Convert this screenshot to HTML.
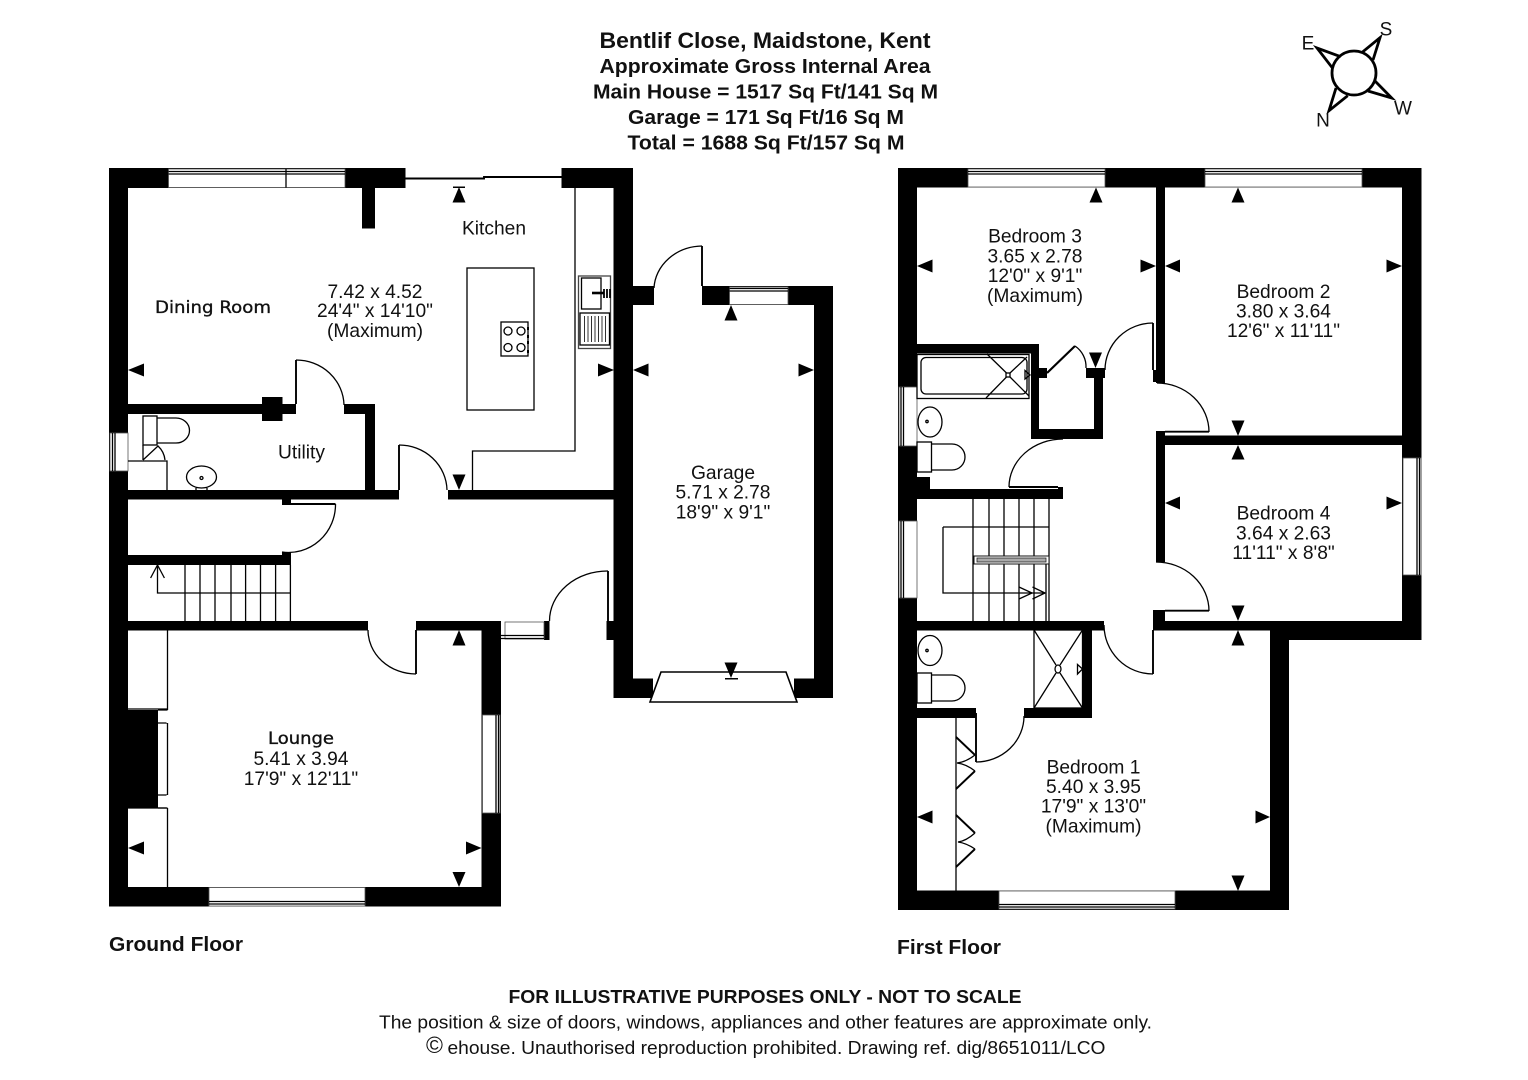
<!DOCTYPE html>
<html lang="en"><head><meta charset="utf-8"><title>Bentlif Close floor plan</title>
<style>
html,body{margin:0;padding:0;background:#fff;width:1528px;height:1080px;overflow:hidden}
svg{display:block}
text{font-family:"Liberation Sans",Arial,sans-serif;fill:#111;text-anchor:middle;font-size:19.2px}
.b{font-weight:bold;font-size:20.4px}
.v{font-family:"DejaVu Sans",sans-serif;font-size:17px;font-weight:500;stroke:#111;stroke-width:.35}
.l{fill:none;stroke:#000;stroke-width:1.3}
.t{fill:none;stroke:#000;stroke-width:1.9}
.w{fill:#fff;stroke:#555;stroke-width:.8}
</style></head><body>
<svg width="1528" height="1080" viewBox="0 0 1528 1080" xmlns="http://www.w3.org/2000/svg">
<rect width="1528" height="1080" fill="#fff"/>

<!-- Titles -->
<text class="b" x="765" y="48" style="font-size:21.8px" textLength="331" lengthAdjust="spacingAndGlyphs">Bentlif Close, Maidstone, Kent</text>
<text class="b" x="765" y="73" textLength="331" lengthAdjust="spacingAndGlyphs">Approximate Gross Internal Area</text>
<text class="b" x="765.5" y="98.5" textLength="345" lengthAdjust="spacingAndGlyphs">Main House = 1517 Sq Ft/141 Sq M</text>
<text class="b" x="766" y="124" textLength="276" lengthAdjust="spacingAndGlyphs">Garage = 171 Sq Ft/16 Sq M</text>
<text class="b" x="766" y="149.5" textLength="277" lengthAdjust="spacingAndGlyphs">Total = 1688 Sq Ft/157 Sq M</text>

<!-- Compass -->
<g fill="none" stroke="#000" stroke-width="2.8">
<circle cx="1354" cy="73" r="22"/>
<path d="M1361.7,52.7L1380,37.7L1373,60M1340.7,56.7L1317,48L1332.7,68.3M1336,88L1329,110.7L1347.7,95.7M1375,81L1391.7,98L1368,91"/>
</g>
<text x="1386" y="35.5" style="font-size:19px">S</text>
<text x="1308" y="49.5" style="font-size:19px">E</text>
<text x="1323" y="126.5" style="font-size:19px">N</text>
<text x="1403" y="114.5" style="font-size:19px">W</text>

<!-- GROUND FLOOR WALLS -->
<g fill="#000">
<rect x="109" y="168" width="19" height="738.5"/>
<rect x="109" y="168" width="296.5" height="20"/>
<rect x="362" y="168" width="13" height="60.5"/>
<rect x="561.5" y="168" width="71.5" height="20"/>
<rect x="613.5" y="168" width="19.5" height="530"/>
<rect x="128" y="404" width="168" height="10"/>
<rect x="262" y="397" width="20.5" height="24"/>
<rect x="344" y="404" width="31" height="10"/>
<rect x="365" y="404" width="10" height="86"/>
<rect x="128" y="490" width="271" height="9.5"/>
<rect x="448" y="490" width="166" height="9.5"/>
<rect x="282" y="499" width="9" height="6"/>
<rect x="128" y="555" width="163" height="10"/>
<rect x="282" y="552" width="9" height="5"/>
<rect x="128" y="621" width="240" height="9.5"/>
<rect x="416" y="621" width="85" height="9.5"/>
<rect x="481.5" y="621" width="19.5" height="285.5"/>
<rect x="109" y="887" width="392" height="19.5"/>
<rect x="544" y="621" width="5.5" height="19"/>
<rect x="606.5" y="621" width="8" height="19"/>
<rect x="128" y="710" width="30" height="98"/>
<!-- garage -->
<rect x="633" y="286" width="21" height="19"/>
<rect x="702" y="286" width="131" height="19"/>
<rect x="814" y="286" width="19" height="412"/>
<rect x="613.5" y="678.5" width="39.5" height="19.5"/>
<rect x="794" y="678.5" width="39" height="19.5"/>
</g>

<!-- Ground windows -->
<rect class="w" x="168.5" y="169" width="176.5" height="18.5"/>
<path class="l" d="M168.5,171.5H345M168.5,174H345M286,169V187.5"/>
<rect class="w" x="110" y="433" width="18" height="38"/>
<path class="l" d="M112.5,433V471M115,433V471"/>
<rect class="w" x="209" y="887.5" width="156" height="18.5"/>
<path class="l" d="M209,901.5H365M209,904H365"/>
<rect class="w" x="482.5" y="715" width="17.5" height="98"/>
<path class="l" d="M496,715V813M498.5,715V813"/>
<rect class="w" x="505" y="622" width="39" height="17"/>
<path class="l" d="M501,635.5H544M501,638.5H544"/>
<rect class="w" x="729.5" y="287" width="58.5" height="17.5"/>
<path class="l" d="M729.5,288.5H788M729.5,291H788"/>

<!-- Sliding door -->
<path d="M405,178.5H484V177H562" fill="none" stroke="#000" stroke-width="1.9"/>

<!-- Ground fixtures -->
<path class="l" d="M575,188V451H472.5V490"/>
<rect class="l" x="467" y="268" width="67" height="142"/>
<rect class="l" x="501" y="322" width="27" height="34"/>
<g class="l"><circle cx="508" cy="331" r="4"/><circle cx="521" cy="331" r="4"/><circle cx="508" cy="347.5" r="4"/><circle cx="521" cy="347.5" r="4"/></g>
<path d="M528,327v3M528,335v3M528,341v3M528,350v3" stroke="#000" stroke-width="2"/>
<rect x="578.5" y="276" width="32" height="72.5" fill="#fff" stroke="#444" stroke-width="1.3"/>
<rect class="l" x="581.5" y="278" width="19.5" height="31"/>
<rect class="l" x="580" y="313" width="29.5" height="32"/>
<path d="M584.5,316V342M588,316V342M591.5,316V342M595,316V342M598.5,316V342M602,316V342M605.5,316V342" stroke="#333" stroke-width="1"/>
<path d="M592,293H604" stroke="#000" stroke-width="2.6"/>
<path d="M604,289V298M607,289V298M610,289V298" stroke="#000" stroke-width="1.8"/>

<!-- Utility fixtures -->
<rect class="l" x="143" y="416" width="14" height="29"/>
<path class="l" d="M157,418H176A13.5,12.5 0 0 1 176,443H157"/>
<path class="l" d="M143,445V460M143,460L158,446A22,22 0 0 1 165,460M128,461H167V490"/>
<ellipse class="l" cx="201.5" cy="477" rx="15" ry="11"/>
<circle class="l" cx="201.5" cy="478" r="1.5"/>
<path class="l" d="M196,488V490M207,488V490"/>

<!-- Ground stairs -->
<path class="l" d="M185,565V621M200,565V621M215,565V621M231,565V621M245.6,565V621M260.5,565V621M275.6,565V621M290.4,565V621M290.4,593H157.5V566M150.6,578L157.5,565L164.4,578"/>

<!-- Ground door swings -->
<g class="t">
<path d="M296,404V360"/><path class="l" d="M296,360A48,46 0 0 1 344,405"/>
<path d="M399,490V445"/><path class="l" d="M399,445A48,46 0 0 1 447,490"/>
<path d="M291,504H335.5"/><path class="l" d="M335.5,504A47,48 0 0 1 282,552"/>
<path d="M416,630V674"/><path class="l" d="M416,674A48,44 0 0 1 368,630"/>
<path d="M608,621V571"/><path class="l" d="M608,571A58,50 0 0 0 549.5,621"/>
<path d="M702,286V246"/><path class="l" d="M702,246A49,44 0 0 0 654,288"/>
</g>

<!-- Lounge fixtures -->
<path class="l" d="M128,709H167.5V630M167.5,630V887M128,808H167.5M158,723H167.5M158,795H167.5"/>
<path d="M167.5,710V723M167.5,795V808" stroke="#fff" stroke-width="2"/>
<path class="l" d="M158,710H167.5M158,808H167.5"/>

<!-- Garage door -->
<polygon points="661,672 786,672 797,702 650,702" fill="#fff" stroke="#000" stroke-width="1.6"/>

<!-- Ground arrows -->
<g fill="#000">
<polygon points="128,370 144,363.5 144,376.5"/>
<polygon points="614,370 598,363.5 598,376.5"/>
<polygon points="459,187 452.5,202.5 465.5,202.5"/><rect x="453" y="186.5" width="12" height="1.5"/>
<polygon points="459,490 452.5,474.5 465.5,474.5"/>
<polygon points="633,370 648.5,363.5 648.5,376.5"/>
<polygon points="814,370 798.5,363.5 798.5,376.5"/>
<polygon points="731,305 724.5,320.5 737.5,320.5"/>
<polygon points="731,678 724.5,662.5 737.5,662.5"/><rect x="725" y="678" width="13" height="1.5"/>
<polygon points="128,848 144,841.5 144,854.5"/>
<polygon points="481.5,848 466,841.5 466,854.5"/>
<polygon points="459,630 452.5,645.5 465.5,645.5"/>
<polygon points="459,887 452.5,872 465.5,872"/>
</g>

<!-- Ground labels -->
<text x="494" y="234.5">Kitchen</text>
<text class="v" x="213" y="313" textLength="116" lengthAdjust="spacingAndGlyphs">Dining Room</text>
<text x="375" y="298">7.42 x 4.52</text>
<text x="375" y="317">24'4" x 14'10"</text>
<text x="375" y="337">(Maximum)</text>
<text x="301.5" y="458.5">Utility</text>
<text class="v" x="301" y="744" textLength="66" lengthAdjust="spacingAndGlyphs">Lounge</text>
<text x="301" y="765">5.41 x 3.94</text>
<text x="301" y="785">17'9" x 12'11"</text>
<text x="723" y="479">Garage</text>
<text x="723" y="498.5">5.71 x 2.78</text>
<text x="723" y="518.5">18'9" x 9'1"</text>
<text class="b" x="176" y="951" textLength="134" lengthAdjust="spacingAndGlyphs">Ground Floor</text>

<!-- FIRST FLOOR WALLS -->
<g fill="#000">
<rect x="898" y="168" width="19" height="742"/>
<rect x="898" y="168" width="523.5" height="19.5"/>
<rect x="1402" y="168" width="19.5" height="472"/>
<rect x="898" y="890.5" width="391" height="19.5"/>
<rect x="1270" y="621" width="19" height="289"/>
<rect x="1270" y="621" width="151.5" height="19"/>
<rect x="1153" y="621" width="117" height="9.5"/>
<rect x="917" y="621" width="187" height="9.5"/>
<rect x="1156" y="187" width="9" height="196"/>
<rect x="1153" y="370" width="12" height="12"/>
<rect x="1156" y="431" width="9" height="131"/>
<rect x="1156" y="435.5" width="246" height="9.5"/>
<rect x="1153" y="610" width="12" height="11"/>
<rect x="917" y="344" width="122" height="9.5"/>
<rect x="1031" y="344" width="8" height="95"/>
<rect x="1031" y="429" width="72" height="10"/>
<rect x="1094" y="368" width="9" height="71"/>
<rect x="1086" y="368" width="19" height="10"/>
<rect x="1039" y="368" width="8" height="10"/>
<rect x="917" y="477" width="13" height="13"/>
<rect x="917" y="489" width="146" height="10"/>
<rect x="1058" y="487" width="5" height="5"/>
<rect x="1082.5" y="630" width="9.5" height="88"/>
<rect x="1024" y="708" width="68" height="10"/>
<rect x="917" y="708" width="59" height="10"/>
</g>

<!-- First floor windows -->
<rect class="w" x="968" y="169" width="137" height="18"/>
<path class="l" d="M968,171.5H1105M968,174H1105"/>
<rect class="w" x="1205" y="169" width="157" height="18"/>
<path class="l" d="M1205,171.5H1362M1205,174H1362"/>
<rect class="w" x="1403" y="458" width="18" height="117"/>
<path class="l" d="M1417,458V575M1419.5,458V575"/>
<rect class="w" x="999" y="891" width="176" height="18"/>
<path class="l" d="M999,904.5H1175M999,907H1175"/>
<rect class="w" x="899" y="387" width="18" height="59"/>
<path class="l" d="M901,387V446M903.5,387V446"/>
<rect class="w" x="899" y="521" width="18" height="77"/>
<path class="l" d="M901,521V598M903.5,521V598"/>

<!-- Bathroom fixtures -->
<rect class="l" x="917" y="354.5" width="112" height="44"/>
<rect class="l" x="921" y="357.5" width="106" height="36.5" rx="5"/>
<path class="l" d="M987,354L1006.5,373M1010,377L1029,396M986,398L1006.5,377M1010,373L1027,357"/>
<rect class="l" x="1006" y="373" width="4" height="4"/>
<path class="l" d="M1025,370.5L1030,375L1025,379Z"/>
<ellipse class="l" cx="930" cy="422" rx="12" ry="15"/><circle class="l" cx="927" cy="421.5" r="1.2"/>
<rect class="l" x="917" y="442" width="14.5" height="30"/>
<path class="l" d="M932,444H952A13,13 0 0 1 952,470H932"/>

<!-- First floor stairs -->
<path class="l" d="M973,499V621M989,499V621M1004,499V621M1019,499V621M1034,499V621M1049,499V621M1046,564V621M943,527H1049M943,527V593H1045"/>
<path class="l" d="M1019,587L1032,593L1019,599M1032.5,587L1045,593L1032.5,599"/>
<rect x="974" y="556" width="75" height="8" fill="#fff" stroke="#111" stroke-width="1"/>
<rect x="977" y="558" width="69" height="4" fill="#aaa" stroke="#222" stroke-width=".8"/>

<!-- En-suite -->
<rect class="l" x="1034" y="630" width="48.5" height="78"/>
<path class="l" d="M1034,630L1056,665M1082.5,630L1060,665M1034,708L1056,673M1082.5,708L1060,673"/>
<ellipse class="l" cx="1058" cy="669" rx="3" ry="4"/>
<path class="l" d="M1077.5,664.5L1082.5,669L1077.5,674Z"/>
<ellipse class="l" cx="930" cy="650.5" rx="12" ry="15"/><circle class="l" cx="927" cy="650.5" r="1.2"/>
<rect class="l" x="917" y="673" width="14.5" height="30"/>
<path class="l" d="M932,675H952A13,13 0 0 1 952,701H932"/>

<!-- Wardrobe -->
<path class="l" d="M956,718V891"/>
<path d="M956,737L975,755" stroke="#000" stroke-width="1.9" fill="none"/>
<path d="M975,755Q966,762 957,763Q966,764 975,771" class="l"/>
<path d="M975,771L956,789" stroke="#000" stroke-width="1.9" fill="none"/>
<path d="M956,815L975,833" stroke="#000" stroke-width="1.9" fill="none"/>
<path d="M975,833Q966,841 958,842Q966,843 975,849" class="l"/>
<path d="M975,849L956,867" stroke="#000" stroke-width="1.9" fill="none"/>

<!-- First door swings -->
<g class="t">
<path d="M1153,370V323"/><path class="l" d="M1153,323A48,47 0 0 0 1105,370"/>
<path d="M1165,431.7H1209"/><path class="l" d="M1157,383A52,49 0 0 1 1209,432"/>
<path d="M1165,610.7H1209"/><path class="l" d="M1156,562A53,49 0 0 1 1209,611"/>
<path d="M1153,630V674"/><path class="l" d="M1153,674A49,49 0 0 1 1104,625"/>
<path d="M976,713V762"/><path class="l" d="M976,762A48,46 0 0 0 1024,716"/>
<path d="M1058,487H1009"/><path class="l" d="M1009,487A54,48 0 0 1 1063,439"/>
<path d="M1047,373L1075,346" stroke-width="2.2"/><path class="l" d="M1075,346A25,25 0 0 1 1086,368"/>
</g>

<!-- First arrows -->
<g fill="#000">
<polygon points="917,266 932.5,259.5 932.5,272.5"/>
<polygon points="1156,266 1140.5,259.5 1140.5,272.5"/>
<polygon points="1165,266 1180,259.5 1180,272.5"/>
<polygon points="1402,266 1386.5,259.5 1386.5,272.5"/>
<polygon points="1096,187.5 1089.5,202.5 1102.5,202.5"/>
<polygon points="1095.5,368 1089,352.5 1102,352.5"/>
<polygon points="1238,187.5 1231.5,202.5 1244.5,202.5"/>
<polygon points="1238,436 1231.5,420.5 1244.5,420.5"/>
<polygon points="1238,445 1231.5,459.5 1244.5,459.5"/>
<polygon points="1165,503 1180,496.5 1180,509.5"/>
<polygon points="1402,503 1386.5,496.5 1386.5,509.5"/>
<polygon points="1238,621 1231.5,605.5 1244.5,605.5"/>
<polygon points="1238,630 1231.5,645.5 1244.5,645.5"/>
<polygon points="1238,891 1231.5,875.5 1244.5,875.5"/>
<polygon points="917,817 932.5,810.5 932.5,823.5"/>
<polygon points="1270,817 1255.5,810.5 1255.5,823.5"/>
</g>

<!-- First labels -->
<text x="1035" y="242.5">Bedroom 3</text>
<text x="1035" y="262.5">3.65 x 2.78</text>
<text x="1035" y="282">12'0" x 9'1"</text>
<text x="1035" y="302">(Maximum)</text>
<text x="1283.5" y="298">Bedroom 2</text>
<text x="1283.5" y="317.5">3.80 x 3.64</text>
<text x="1283.5" y="337">12'6" x 11'11"</text>
<text x="1283.5" y="519.5">Bedroom 4</text>
<text x="1283.5" y="539.5">3.64 x 2.63</text>
<text x="1283.5" y="559">11'11" x 8'8"</text>
<text x="1093.5" y="773.5">Bedroom 1</text>
<text x="1093.5" y="793">5.40 x 3.95</text>
<text x="1093.5" y="812.5">17'9" x 13'0"</text>
<text x="1093.5" y="832.5">(Maximum)</text>
<text class="b" x="949" y="954" textLength="104" lengthAdjust="spacingAndGlyphs">First Floor</text>

<!-- Footer -->
<text class="b" x="765" y="1003" style="font-size:18.4px" textLength="513" lengthAdjust="spacingAndGlyphs">FOR ILLUSTRATIVE PURPOSES ONLY - NOT TO SCALE</text>
<text x="765.5" y="1028.5" style="font-size:18.4px" textLength="773" lengthAdjust="spacingAndGlyphs">The position &amp; size of doors, windows, appliances and other features are approximate only.</text>
<text x="434.5" y="1053" style="font-size:23px">©</text>
<text x="776.5" y="1054" style="font-size:18.4px" textLength="658" lengthAdjust="spacingAndGlyphs">ehouse. Unauthorised reproduction prohibited. Drawing ref. dig/8651011/LCO</text>
</svg>
</body></html>
